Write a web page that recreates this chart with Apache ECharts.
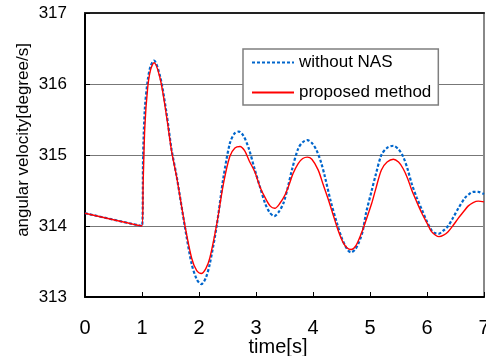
<!DOCTYPE html>
<html>
<head>
<meta charset="utf-8">
<script src="https://cdn.jsdelivr.net/npm/echarts@6/dist/echarts.min.js"></script>
<style>
html,body{margin:0;padding:0;background:#fff;}
#c{width:486px;height:356px;}
</style>
</head>
<body>
<div id="c"></div>
<script>
var seriesNames = ['without NAS', 'proposed method'];
var xTicks = [0, 1, 2, 3, 4, 5, 6, 7];
var yTicks = [313, 314, 315, 316, 317];
var xName = 'time[s]';
var yName = 'angular velocity[degree/s]';

var blueT = [0, 1.0, 1.02, 1.05, 1.1, 1.15, 1.21, 1.32, 1.43, 1.52, 1.61, 1.75, 1.87, 1.96, 2.04, 2.12, 2.19, 2.31, 2.43, 2.54, 2.62, 2.70, 2.78, 2.87, 2.98, 3.07, 3.16, 3.24, 3.32, 3.40, 3.48, 3.56, 3.63, 3.74, 3.82, 3.90, 3.98, 4.06, 4.14, 4.21, 4.31, 4.42, 4.50, 4.56, 4.62, 4.67, 4.74, 4.80, 4.87, 4.93, 5.03, 5.10, 5.20, 5.30, 5.41, 5.50, 5.58, 5.66, 5.73, 5.82, 5.91, 6.00, 6.08, 6.14, 6.20, 6.28, 6.37, 6.46, 6.55, 6.67, 6.74, 6.81, 6.90, 7.0];
var blueV = [314.18, 314.0, 315.0, 315.65, 316.05, 316.25, 316.33, 316.10, 315.59, 315.07, 314.69, 314.0, 313.47, 313.25, 313.18, 313.27, 313.47, 314.0, 314.69, 315.16, 315.30, 315.33, 315.27, 315.10, 314.79, 314.55, 314.32, 314.19, 314.14, 314.20, 314.32, 314.55, 314.79, 315.09, 315.18, 315.21, 315.17, 315.07, 314.90, 314.69, 314.35, 314.04, 313.84, 313.73, 313.65, 313.63, 313.67, 313.76, 313.92, 314.18, 314.50, 314.72, 315.0, 315.10, 315.13, 315.08, 314.98, 314.80, 314.60, 314.40, 314.23, 314.06, 313.94, 313.90, 313.89, 313.93, 314.0, 314.12, 314.25, 314.40, 314.45, 314.48, 314.48, 314.45];

var redT = [0, 1.0, 1.02, 1.05, 1.1, 1.15, 1.21, 1.32, 1.43, 1.52, 1.61, 1.75, 1.87, 1.96, 2.04, 2.12, 2.19, 2.31, 2.43, 2.54, 2.63, 2.72, 2.80, 2.88, 2.98, 3.07, 3.16, 3.25, 3.33, 3.42, 3.51, 3.58, 3.65, 3.74, 3.82, 3.90, 3.98, 4.09, 4.18, 4.27, 4.36, 4.44, 4.52, 4.60, 4.67, 4.75, 4.85, 4.93, 5.03, 5.10, 5.20, 5.30, 5.41, 5.50, 5.58, 5.66, 5.73, 5.82, 5.91, 6.00, 6.08, 6.15, 6.21, 6.29, 6.37, 6.46, 6.55, 6.64, 6.72, 6.81, 6.90, 7.0];
var redV = [314.18, 314.0, 314.6, 315.4, 315.95, 316.2, 316.30, 316.07, 315.55, 315.05, 314.68, 314.02, 313.55, 313.37, 313.33, 313.40, 313.55, 314.02, 314.60, 314.98, 315.10, 315.12, 315.06, 314.92, 314.76, 314.55, 314.40, 314.28, 314.25, 314.32, 314.44, 314.58, 314.74, 314.88, 314.95, 314.97, 314.94, 314.79, 314.58, 314.37, 314.14, 313.94, 313.78, 313.69, 313.67, 313.72, 313.90, 314.08, 314.32, 314.52, 314.79, 314.90, 314.94, 314.90, 314.81, 314.67, 314.51, 314.34, 314.18, 314.04, 313.92, 313.87, 313.85, 313.87, 313.92, 314.01, 314.11, 314.20, 314.28, 314.33, 314.35, 314.34];

function pairs(t, v) { return t.map(function (x, i) { return [x, v[i]]; }); }

var font = 'Liberation Sans, Arial, sans-serif';
var chart = echarts.init(document.getElementById('c'), null, {renderer: 'canvas'});
chart.setOption({
  animation: false,
  backgroundColor: '#fff',
  grid: {left: 85, right: 2, top: 13, bottom: 59, containLabel: false, outerBoundsMode: 'none'},
  legend: {
    orient: 'vertical',
    left: 243, top: 49,
    padding: [5, 7, 4, 8],
    itemWidth: 42, itemHeight: 14, itemGap: 13,
    backgroundColor: '#fff',
    borderColor: '#7f7f7f', borderWidth: 1.5,
    itemStyle: {opacity: 0},
    textStyle: {fontFamily: font, fontSize: 17, lineHeight: 14, color: '#000'},
    data: seriesNames
  },
  xAxis: [{
    type: 'value', min: xTicks[0], max: xTicks[xTicks.length - 1], interval: 1,
    name: xName, nameLocation: 'middle', nameGap: 40, nameMoveOverlap: false,
    nameTextStyle: {fontFamily: font, fontSize: 20, color: '#000', padding: [0, 13, 0, 0]},
    axisLine: {show: true, onZero: false, lineStyle: {color: '#000', width: 2}},
    axisTick: {show: true, inside: true, length: 5, lineStyle: {color: '#000', width: 1}},
    axisLabel: {fontFamily: font, fontSize: 20, color: '#000', margin: 21},
    splitLine: {show: false}
  }, {
    type: 'value', position: 'top', min: 0, max: 7,
    axisLine: {show: true, onZero: false, lineStyle: {color: '#222', width: 2}},
    axisTick: {show: false}, axisLabel: {show: false}, splitLine: {show: false}
  }],
  yAxis: [{
    type: 'value', min: yTicks[0], max: yTicks[yTicks.length - 1], interval: 1,
    name: yName, nameLocation: 'middle', nameGap: 53, nameRotate: 90, nameMoveOverlap: false,
    nameTextStyle: {fontFamily: font, fontSize: 17, color: '#000', padding: [0, 0, 0, 30]},
    axisLine: {show: true, onZero: false, lineStyle: {color: '#000', width: 2}},
    axisTick: {show: true, inside: true, length: 5, lineStyle: {color: '#000', width: 1}},
    axisLabel: {fontFamily: font, fontSize: 17, color: '#000', margin: 18},
    splitLine: {show: true, lineStyle: {color: '#777', width: 1}}
  }, {
    type: 'value', position: 'right', min: 313, max: 317,
    axisLine: {show: true, onZero: false, lineStyle: {color: '#888', width: 2}},
    axisTick: {show: false}, axisLabel: {show: false}, splitLine: {show: false}
  }],
  series: [{
    name: seriesNames[0], type: 'line', xAxisIndex: 0, yAxisIndex: 0,
    data: pairs(blueT, blueV), showSymbol: false, symbol: 'none', smooth: 0.3,
    lineStyle: {color: '#0066cc', width: 2.2, type: [3, 2]},
    itemStyle: {color: '#0066cc'}, z: 2
  }, {
    name: seriesNames[1], type: 'line', xAxisIndex: 0, yAxisIndex: 0,
    data: pairs(redT, redV), showSymbol: false, symbol: 'none', smooth: 0.3,
    lineStyle: {color: '#ff0000', width: 1.4},
    itemStyle: {color: '#ff0000'}, z: 3
  }]
});
</script>
</body>
</html>
